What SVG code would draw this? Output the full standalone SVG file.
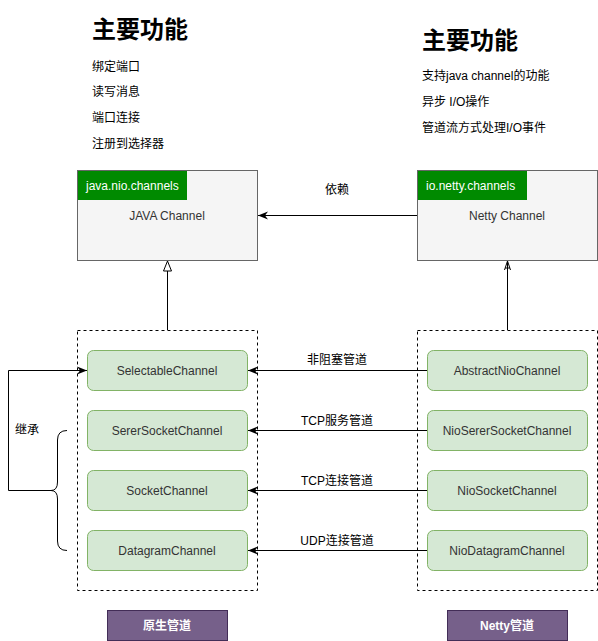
<svg xmlns="http://www.w3.org/2000/svg" width="598" height="641" viewBox="0 0 598 641">
<defs>
<style>
text{font-family:"Liberation Sans","Noto Sans CJK SC",sans-serif;font-size:12px;fill:#000}
.h{font-size:24px;font-weight:bold}
.pk{fill:#f5f5f5;stroke:#666666;stroke-width:1}
.hd{fill:#008a00;stroke:none}
.hdt{fill:#ffffff;font-size:12px}
.bt{fill:#333333;text-anchor:middle}
.grp{fill:none;stroke:#000;stroke-dasharray:3 3;stroke-width:1}
.nd{fill:#d5e8d4;stroke:#82b366;stroke-width:1}
.nt{fill:#333333;text-anchor:middle}
.lb{fill:#76608a;stroke:#432d57;stroke-width:1}
.lbt{fill:#ffffff;text-anchor:middle;font-weight:bold}
.c{fill:none;stroke:#000;stroke-width:1}
.lt{text-anchor:middle}
</style>
<marker id="arr" viewBox="0 0 10 10" refX="10" refY="5" markerWidth="10" markerHeight="10" markerUnits="userSpaceOnUse" orient="auto">
<path d="M0,1 L10,5 L0,9 L3,5 Z" fill="#000"/>
</marker>
<marker id="tri" viewBox="0 0 12 12" refX="11" refY="6" markerWidth="12" markerHeight="12" markerUnits="userSpaceOnUse" orient="auto">
<path d="M1,2 L11,6 L1,10 Z" fill="#fff" stroke="#000" stroke-width="1"/>
</marker>
<marker id="opn" viewBox="0 0 10 10" refX="10" refY="5" markerWidth="10" markerHeight="10" markerUnits="userSpaceOnUse" orient="auto">
<path d="M1,2 L10,5 L1,8 M3,2.7 L3,7.3" fill="none" stroke="#000" stroke-width="1"/>
</marker>
</defs>
<rect width="598" height="641" fill="#ffffff"/>

<g id="left-text">
<text class="h" x="92" y="38">主要功能</text>
<text x="92" y="71">绑定端口</text>
<text x="92" y="96">读写消息</text>
<text x="92" y="122">端口连接</text>
<text x="92" y="148">注册到选择器</text>
</g>
<g id="right-text">
<text class="h" x="422" y="49">主要功能</text>
<text x="422" y="80">支持java channel的功能</text>
<text x="422" y="106">异步 I/O操作</text>
<text x="422" y="132">管道流方式处理I/O事件</text>
</g>

<g id="java-channel">
<rect class="pk" x="77.5" y="170.5" width="180" height="90"/>
<rect class="hd" x="78" y="171" width="109" height="29"/>
<text class="hdt" x="86" y="190">java.nio.channels</text>
<text class="bt" x="167" y="220">JAVA Channel</text>
</g>
<g id="netty-channel">
<rect class="pk" x="417.5" y="170.5" width="180" height="90"/>
<rect class="hd" x="418" y="171" width="109" height="29"/>
<text class="hdt" x="426" y="190">io.netty.channels</text>
<text class="bt" x="507" y="220">Netty Channel</text>
</g>

<g id="native-group">
<rect class="grp" x="77.5" y="330.5" width="180" height="260"/>
</g>
<g id="netty-group">
<rect class="grp" x="417.5" y="330.5" width="180" height="260"/>
</g>

<g id="SelectableChannel"><rect class="nd" x="87.5" y="350.5" width="160" height="40" rx="6"/><text class="nt" x="167" y="375">SelectableChannel</text></g>
<g id="SererSocketChannel"><rect class="nd" x="87.5" y="410.5" width="160" height="40" rx="6"/><text class="nt" x="167" y="435">SererSocketChannel</text></g>
<g id="SocketChannel"><rect class="nd" x="87.5" y="470.5" width="160" height="40" rx="6"/><text class="nt" x="167" y="495">SocketChannel</text></g>
<g id="DatagramChannel"><rect class="nd" x="87.5" y="530.5" width="160" height="40" rx="6"/><text class="nt" x="167" y="555">DatagramChannel</text></g>

<g id="AbstractNioChannel"><rect class="nd" x="427.5" y="350.5" width="160" height="40" rx="6"/><text class="nt" x="507" y="375">AbstractNioChannel</text></g>
<g id="NioSererSocketChannel"><rect class="nd" x="427.5" y="410.5" width="160" height="40" rx="6"/><text class="nt" x="507" y="435">NioSererSocketChannel</text></g>
<g id="NioSocketChannel"><rect class="nd" x="427.5" y="470.5" width="160" height="40" rx="6"/><text class="nt" x="507" y="495">NioSocketChannel</text></g>
<g id="NioDatagramChannel"><rect class="nd" x="427.5" y="530.5" width="160" height="40" rx="6"/><text class="nt" x="507" y="555">NioDatagramChannel</text></g>

<g id="label-native"><rect class="lb" x="107.5" y="610.5" width="120" height="30"/><text class="lbt" x="167" y="630">原生管道</text></g>
<g id="label-netty"><rect class="lb" x="447.5" y="610.5" width="120" height="30"/><text class="lbt" x="507" y="630">Netty管道</text></g>

<g id="connectors">
<line class="c" x1="417" y1="215.5" x2="258" y2="215.5" marker-end="url(#arr)"/>
<text class="lt" x="337" y="194">依赖</text>
<line class="c" x1="167.5" y1="330" x2="167.5" y2="261" marker-end="url(#tri)"/>
<line class="c" x1="507.5" y1="330" x2="507.5" y2="261" marker-end="url(#opn)"/>
<line class="c" x1="427" y1="370.5" x2="248" y2="370.5" marker-end="url(#arr)"/>
<text class="lt" x="337" y="364">非阻塞管道</text>
<line class="c" x1="427" y1="430.5" x2="248" y2="430.5" marker-end="url(#arr)"/>
<text class="lt" x="337" y="425">TCP服务管道</text>
<line class="c" x1="427" y1="490.5" x2="248" y2="490.5" marker-end="url(#arr)"/>
<text class="lt" x="337" y="485">TCP连接管道</text>
<line class="c" x1="427" y1="550.5" x2="248" y2="550.5" marker-end="url(#arr)"/>
<text class="lt" x="337" y="545">UDP连接管道</text>
<path class="c" d="M67,430.5 Q57.5,430.5 57.5,440 L57.5,482 Q57.5,490.5 51,490.5 Q57.5,490.5 57.5,499 L57.5,541 Q57.5,550.5 67,550.5"/>
<path class="c" d="M51,490.5 L8.5,490.5 L8.5,370.5 L87,370.5" marker-end="url(#arr)"/>
<text x="15" y="434">继承</text>
</g>
</svg>
